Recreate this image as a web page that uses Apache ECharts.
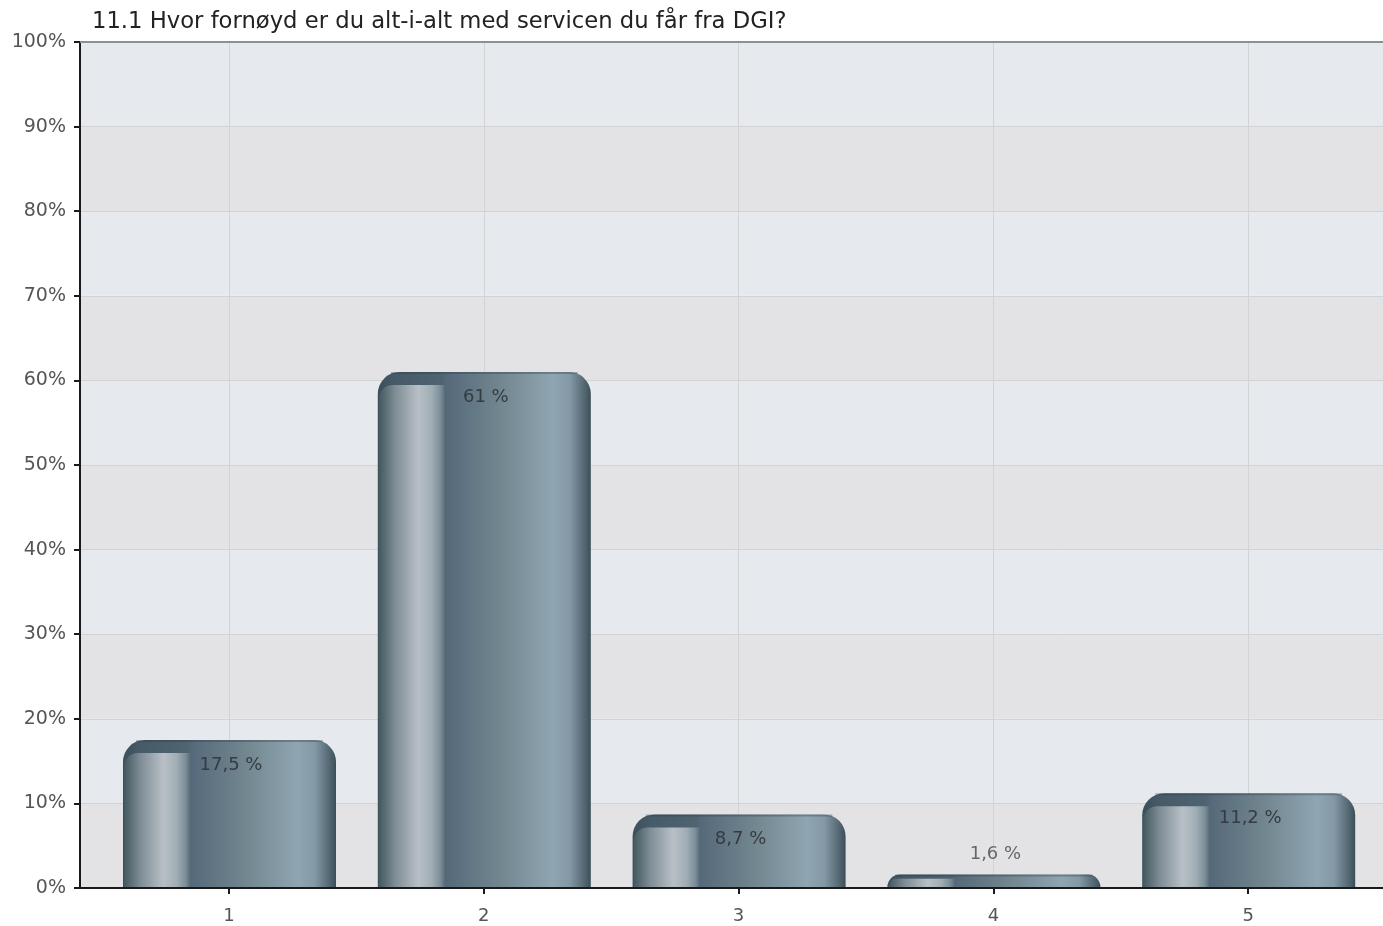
<!DOCTYPE html>
<html>
<head>
<meta charset="utf-8">
<script src="https://cdn.jsdelivr.net/npm/echarts@6/dist/echarts.min.js"></script>
<style>
html,body{margin:0;padding:0;background:#fff;}
#c{width:1383px;height:926px;}
</style>
</head>
<body>
<div id="c"></div>
<script>
const title = '11.1 Hvor fornøyd er du alt-i-alt med servicen du får fra DGI?';
const categories = [1, 2, 3, 4, 5];
const values = [17.5, 61, 8.7, 1.6, 11.2];
const valueLabels = ['17,5 %', '61 %', '8,7 %', '1,6 %', '11,2 %'];
const yTicks = [0, 10, 20, 30, 40, 50, 60, 70, 80, 90, 100];

const FONT = 'DejaVu Sans';

function hGrad(stops) {
  return {type: 'linear', x: 0, y: 0, x2: 1, y2: 0,
    colorStops: stops.map(s => ({offset: s[0], color: s[1]}))};
}
const bodyGrad = hGrad([
  [0, '#3a4f5a'], [0.08, '#465b67'], [0.3, '#4f6471'], [0.32, '#55697a'],
  [0.58, '#72878f'], [0.82, '#8fa5b2'], [0.9, '#8499a6'], [0.96, '#5b6f7a'], [1, '#3c4f59']
]);
const hiGrad = hGrad([
  [0, '#43585f'], [0.25, '#7e8d96'], [0.6, '#b8c0c6'], [0.8, '#a0adb5'], [0.93, '#7d8f99'], [1, '#5a6e7b']
]);

const chart = echarts.init(document.getElementById('c'), null, {renderer: 'canvas'});
const xMin = 1 - 149 / 254.8;
const xMax = 5 + (1383 - 1248.2) / 254.8;
const BAR_RATIO = 0.836;

function renderItem(params, api) {
  const x = api.value(0), v = api.value(1);
  const topPt = api.coord([x, v]);
  const basePt = api.coord([x, 0]);
  const w = api.size([1, 0])[0] * BAR_RATIO;
  const left = topPt[0] - w / 2 + 0.5;
  const h = basePt[1] - topPt[1] - 1;
  const r = Math.min(22, h);
  const capH = Math.min(13, h * 0.35);
  const hiW = w * 0.31;
  const hr = Math.min(14, h - capH);
  const idx = params.dataIndex;
  const small = v < 5;
  const children = [
    {type: 'rect', shape: {x: left, y: topPt[1], width: w, height: h, r: [r, r, 0, 0]},
     style: {fill: bodyGrad}},
    {type: 'rect', shape: {x: left + 1, y: topPt[1] + capH, width: hiW, height: h - capH, r: [Math.max(0, hr), 0, 0, 0]},
     style: {fill: hiGrad}},
    {type: 'rect', shape: {x: left + r * 0.6, y: topPt[1], width: w - r * 1.2, height: 2},
     style: {fill: 'rgba(40,58,68,0.35)'}},
    {type: 'text', x: topPt[0] + 2, y: small ? topPt[1] - 11 : topPt[1] + 16,
     style: {text: valueLabels[idx], fontFamily: FONT, fontSize: 18,
       fill: small ? '#666' : '#353b40', align: 'center', verticalAlign: small ? 'bottom' : 'top'}}
  ];
  return {type: 'group', children};
}

chart.setOption({
  animation: false,
  title: {
    text: title, left: 92, top: 11, padding: 0,
    textStyle: {fontFamily: FONT, fontSize: 22.7, fontWeight: 'normal', color: '#222'}
  },
  grid: {left: 80, right: 0, top: 42, bottom: 38, containLabel: false},
  xAxis: [{
    type: 'value', min: xMin, max: xMax, position: 'bottom',
    axisLine: {show: true, onZero: false, lineStyle: {color: '#1a1a1a', width: 2}},
    axisTick: {show: true, length: 6, customValues: categories, lineStyle: {color: '#1a1a1a', width: 2}},
    axisLabel: {customValues: categories, fontFamily: FONT, fontSize: 18, color: '#555', margin: 19},
    splitLine: {show: true, lineStyle: {color: '#d3d3d5', width: 1}}
  }, {
    type: 'value', min: xMin, max: xMax, position: 'top',
    axisLine: {show: true, onZero: false, lineStyle: {color: '#8c8f93', width: 2}},
    axisTick: {show: false}, axisLabel: {show: false}, splitLine: {show: false}
  }],
  yAxis: {
    type: 'value', min: 0, max: 100, interval: 10,
    axisLine: {show: true, lineStyle: {color: '#1a1a1a', width: 2}},
    axisTick: {show: true, length: 6, lineStyle: {color: '#1a1a1a', width: 2}},
    axisLabel: {formatter: v => v + '%', fontFamily: FONT, fontSize: 19, color: '#555', margin: 14},
    splitLine: {show: true, lineStyle: {color: '#d3d3d5', width: 1}},
    splitArea: {show: true, areaStyle: {color: ['#e3e3e5', '#e6e9ed']}}
  },
  series: [{
    type: 'custom',
    renderItem,
    xAxisIndex: 0,
    encode: {x: 0, y: 1},
    data: categories.map((c, i) => [c, values[i]]),
    z: 2
  }]
});
</script>
</body>
</html>
